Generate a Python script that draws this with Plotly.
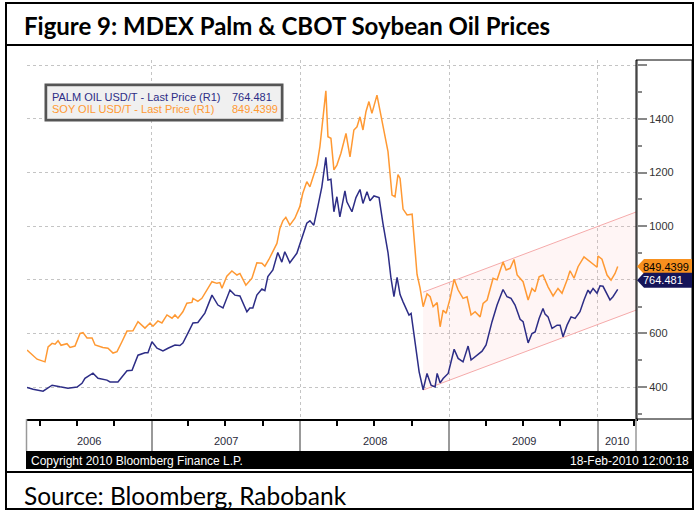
import pandas as pd
import plotly.graph_objects as go

# weekly-ish closes, time as decimal year
palm_t = [
    2006.161, 2006.202, 2006.269, 2006.330, 2006.383, 2006.437, 2006.498, 2006.531, 2006.551, 2006.605,
    2006.639, 2006.699, 2006.720, 2006.773, 2006.834, 2006.868, 2006.908, 2006.955, 2006.975, 2007.002,
    2007.036, 2007.076, 2007.110, 2007.157, 2007.190, 2007.210, 2007.244, 2007.278, 2007.311, 2007.358,
    2007.406, 2007.446, 2007.480, 2007.527, 2007.560, 2007.594, 2007.641, 2007.661, 2007.681, 2007.708,
    2007.742, 2007.762, 2007.782, 2007.816, 2007.849, 2007.876, 2007.896, 2007.930, 2007.977, 2008.011,
    2008.044, 2008.065, 2008.091, 2008.118, 2008.145, 2008.172, 2008.186, 2008.206, 2008.226, 2008.246,
    2008.266, 2008.300, 2008.313, 2008.347, 2008.374, 2008.401, 2008.421, 2008.448, 2008.468, 2008.495,
    2008.529, 2008.555, 2008.576, 2008.589, 2008.609, 2008.629, 2008.650, 2008.670, 2008.690, 2008.710,
    2008.730, 2008.744, 2008.764, 2008.784, 2008.798, 2008.825, 2008.851, 2008.878, 2008.905, 2008.919,
    2008.939, 2008.959, 2008.993, 2009.033, 2009.060, 2009.093, 2009.127, 2009.147, 2009.188, 2009.221,
    2009.248, 2009.288, 2009.322, 2009.362, 2009.389, 2009.416, 2009.443, 2009.477, 2009.497, 2009.531,
    2009.557, 2009.578, 2009.605, 2009.631, 2009.645, 2009.665, 2009.692, 2009.726, 2009.746, 2009.766,
    2009.793, 2009.820, 2009.847, 2009.880, 2009.907, 2009.934, 2009.948, 2009.968, 2009.995, 2010.015,
    2010.035, 2010.082, 2010.102, 2010.134,
]
palm_price = [
    399, 392, 385, 407, 401, 396, 400, 414, 433, 452,
    433, 426, 419, 419, 461, 463, 519, 528, 528, 569,
    545, 535, 545, 557, 555, 564, 601, 639, 641, 676,
    743, 706, 695, 762, 743, 740, 681, 695, 695, 743,
    766, 760, 812, 837, 902, 866, 905, 864, 899, 955,
    1011, 1020, 1004, 1073, 1147, 1257, 1172, 1175, 1054, 1110,
    1035, 1132, 1091, 1054, 1107, 1137, 1085, 1129, 1095, 1113,
    1107, 1011, 942, 902, 806, 737, 809, 745, 718, 690,
    669, 675, 590, 510, 457, 390, 451, 407, 401, 451,
    416, 432, 451, 541, 507, 494, 553, 501, 519, 534,
    557, 644, 706, 764, 737, 731, 706, 653, 644, 565,
    600, 606, 656, 693, 672, 662, 619, 631, 631, 588,
    631, 662, 656, 681, 725, 762, 750, 768, 750, 778,
    776, 725, 737, 764.481,
]

soy_t = [
    2006.161, 2006.182, 2006.229, 2006.282, 2006.303, 2006.330, 2006.350, 2006.370, 2006.390, 2006.430,
    2006.451, 2006.484, 2006.518, 2006.538, 2006.565, 2006.599, 2006.619, 2006.672, 2006.706, 2006.740,
    2006.767, 2006.800, 2006.834, 2006.874, 2006.908, 2006.955, 2006.989, 2007.009, 2007.042, 2007.069,
    2007.103, 2007.137, 2007.157, 2007.177, 2007.210, 2007.237, 2007.271, 2007.278, 2007.311, 2007.338,
    2007.372, 2007.406, 2007.439, 2007.459, 2007.473, 2007.506, 2007.540, 2007.574, 2007.594, 2007.634,
    2007.675, 2007.708, 2007.742, 2007.762, 2007.789, 2007.809, 2007.843, 2007.863, 2007.883, 2007.903,
    2007.930, 2007.964, 2007.997, 2008.017, 2008.044, 2008.065, 2008.085, 2008.112, 2008.132, 2008.152,
    2008.172, 2008.186, 2008.206, 2008.226, 2008.246, 2008.273, 2008.307, 2008.334, 2008.360, 2008.381,
    2008.401, 2008.421, 2008.441, 2008.461, 2008.481, 2008.515, 2008.535, 2008.555, 2008.589, 2008.616,
    2008.636, 2008.656, 2008.670, 2008.690, 2008.717, 2008.751, 2008.784, 2008.804, 2008.825, 2008.851,
    2008.872, 2008.892, 2008.919, 2008.939, 2008.959, 2008.979, 2009.006, 2009.033, 2009.060, 2009.093,
    2009.120, 2009.147, 2009.174, 2009.208, 2009.228, 2009.255, 2009.275, 2009.295, 2009.322, 2009.342,
    2009.362, 2009.383, 2009.410, 2009.436, 2009.457, 2009.497, 2009.531, 2009.557, 2009.578, 2009.605,
    2009.631, 2009.665, 2009.699, 2009.732, 2009.759, 2009.793, 2009.813, 2009.840, 2009.867, 2009.907,
    2009.948, 2009.995, 2010.001, 2010.028, 2010.062, 2010.089, 2010.116, 2010.134,
]
soy_price = [
    538, 527, 504, 494, 550, 563, 560, 573, 556, 562,
    548, 553, 600, 603, 583, 583, 557, 548, 545, 527,
    532, 569, 609, 610, 644, 620, 639, 627, 647, 639,
    669, 657, 669, 657, 681, 713, 716, 731, 720, 731,
    762, 793, 787, 790, 769, 814, 833, 818, 824, 780,
    806, 864, 862, 851, 876, 899, 936, 992, 1020, 1033,
    1004, 1030, 1073, 1123, 1166, 1147, 1185, 1228, 1297, 1396,
    1505, 1334, 1328, 1210, 1228, 1272, 1346, 1259, 1359, 1371,
    1408, 1359, 1427, 1465, 1421, 1489, 1434, 1371, 1278, 1116,
    1110, 1193, 1178, 1064, 1042, 1045, 820, 770, 700, 748,
    737, 700, 715, 625, 687, 675, 731, 802, 762, 731,
    737, 669, 681, 662, 712, 725, 768, 806, 800, 837,
    867, 837, 843, 876, 818, 793, 725, 768, 756, 811,
    818, 774, 740, 768, 750, 799, 834, 806, 849, 886,
    868, 847, 889, 877, 818, 799, 824, 849.4399,
]

# trend channel drawn on the Bloomberg chart
channel_t = [2008.825, 2010.257]
channel_upper = [754, 1053]
channel_lower = [389, 687]

x_start, x_end = 2006.161, 2010.257
y_tickvals = [400, 600, 800, 1000, 1200, 1400, 1600]
y_ticktext = ["400", "600", "800", "1000", "1200", "1400", ""]
years = [2006, 2007, 2008, 2009, 2010]
palm_last = "764.481"
soy_last = "849.4399"

PALM = "#2D2D86"
SOY = "#FF9933"
W, H = 695, 510


def to_date(t):
    y = int(t)
    start = pd.Timestamp(year=y, month=1, day=1)
    n = (pd.Timestamp(year=y + 1, month=1, day=1) - start).days
    return start + pd.Timedelta(days=(t - y) * n)


def dates(ts):
    return [to_date(t) for t in ts]


def px(x):
    return x / W


def py(y):
    return 1 - y / H


fig = go.Figure()

fig.add_trace(go.Scatter(
    x=dates(channel_t), y=channel_lower, mode="lines",
    line=dict(color="#F5AAAA", width=1), showlegend=False,
))
fig.add_trace(go.Scatter(
    x=dates(channel_t), y=channel_upper, mode="lines",
    line=dict(color="#F5AAAA", width=1), fill="tonexty",
    fillcolor="rgba(255,190,190,0.15)", showlegend=False,
))
fig.add_trace(go.Scatter(
    x=dates(soy_t), y=soy_price, mode="lines",
    line=dict(color=SOY, width=1.5), showlegend=False,
))
fig.add_trace(go.Scatter(
    x=dates(palm_t), y=palm_price, mode="lines",
    line=dict(color=PALM, width=1.5), showlegend=False,
))

shapes = [
    # outer frame + section rules
    dict(type="rect", xref="paper", yref="paper", x0=px(6), x1=px(693), y0=py(509), y1=py(3),
         line=dict(color="black", width=2)),
    dict(type="line", xref="paper", yref="paper", x0=px(6), x1=px(693), y0=py(45), y1=py(45),
         line=dict(color="black", width=2)),
    dict(type="line", xref="paper", yref="paper", x0=px(6), x1=px(693), y0=py(472), y1=py(472),
         line=dict(color="black", width=2)),
    # right label box
    dict(type="rect", xref="paper", yref="paper", x0=px(636), x1=px(692), y0=py(419), y1=py(60),
         line=dict(color="black", width=1)),
    # date band edges
    dict(type="line", xref="paper", yref="paper", x0=px(26.5), x1=px(26.5), y0=py(451), y1=py(419),
         line=dict(color="#999999", width=1.5)),
    dict(type="line", xref="paper", yref="paper", x0=px(636), x1=px(636), y0=py(451), y1=py(419),
         line=dict(color="#999999", width=1.5)),
    # copyright bar
    dict(type="rect", xref="paper", yref="paper", x0=px(26), x1=px(692), y0=py(469), y1=py(451),
         fillcolor="black", line=dict(width=0)),
    # legend box
    dict(type="rect", xref="paper", yref="paper", x0=px(46), x1=px(282), y0=py(120), y1=py(85),
         fillcolor="#F0F0F0", line=dict(color="#555555", width=3)),
    dict(type="rect", xref="paper", yref="paper", x0=px(47.5), x1=px(280.5), y0=py(118.5), y1=py(86.5),
         line=dict(color="#CCCCCC", width=1)),
]

# last price tags on the right axis
for val, col, shift in [(float(soy_last), "#F7901E", 0), (float(palm_last), "#141458", 9)]:
    shapes.append(dict(
        type="path", xref="paper", yref="y", xsizemode="pixel", ysizemode="pixel",
        xanchor=px(636), yanchor=val,
        path=f"M 1 {shift} L 8 {shift + 7.5} L 56 {shift + 7.5} L 56 {shift - 7.5} L 8 {shift - 7.5} Z",
        fillcolor=col, line=dict(width=0),
    ))

annotations = [
    dict(text="<b>Figure 9: MDEX Palm & CBOT Soybean Oil Prices</b>", x=px(22), y=py(25),
         xanchor="left", yanchor="middle", font=dict(family="Lato", size=24, color="black")),
    dict(text="Source: Bloomberg, Rabobank", x=px(22), y=py(495),
         xanchor="left", yanchor="middle", font=dict(family="Lato", size=24.5, color="black")),
    dict(text="Copyright 2010 Bloomberg Finance L.P.", x=px(29), y=py(460.5),
         xanchor="left", yanchor="middle", font=dict(family="Liberation Sans", size=12, color="white")),
    dict(text="18-Feb-2010 12:00:18", x=px(691), y=py(460.5),
         xanchor="right", yanchor="middle", font=dict(family="Liberation Sans", size=12, color="white")),
    dict(text="PALM OIL USD/T - Last Price (R1)", x=px(50), y=py(97),
         xanchor="left", yanchor="middle", font=dict(family="Liberation Sans", size=11, color=PALM)),
    dict(text=palm_last, x=px(230), y=py(97),
         xanchor="left", yanchor="middle", font=dict(family="Liberation Sans", size=11, color=PALM)),
    dict(text="SOY OIL USD/T - Last Price (R1)", x=px(50), y=py(108.5),
         xanchor="left", yanchor="middle", font=dict(family="Liberation Sans", size=11, color=SOY)),
    dict(text=soy_last, x=px(230), y=py(108.5),
         xanchor="left", yanchor="middle", font=dict(family="Liberation Sans", size=11, color=SOY)),
    dict(text=soy_last, x=px(641), y=float(soy_last), yref="y",
         xanchor="left", yanchor="middle", font=dict(family="Liberation Sans", size=11, color="black")),
    dict(text=palm_last, x=px(641), y=float(palm_last), yref="y", yshift=9,
         xanchor="left", yanchor="middle", font=dict(family="Liberation Sans", size=11, color="white")),
]

# year labels centred in the visible part of each year
for yr in years:
    lo = max(yr, x_start)
    hi = min(yr + 1, x_end)
    annotations.append(dict(
        text=str(yr), x=to_date((lo + hi) / 2), xref="x", y=py(441), yref="paper",
        xanchor="center", yanchor="middle",
        font=dict(family="Liberation Sans", size=11, color="#2A2A3A"),
    ))

for a in annotations:
    a.setdefault("xref", "paper")
    a.setdefault("yref", "paper")
    a.setdefault("showarrow", False)

fig.update_layout(
    width=W,
    height=H,
    autosize=False,
    margin=dict(l=0, r=0, t=0, b=0),
    plot_bgcolor="white",
    paper_bgcolor="white",
    showlegend=False,
    shapes=shapes,
    annotations=annotations,
    xaxis=dict(
        type="date",
        domain=[px(27), px(636)],
        range=[to_date(x_start), to_date(x_end)],
        tick0="2007-01-01",
        dtick="M12",
        ticks="outside",
        ticklen=32,
        tickwidth=1.5,
        tickcolor="#999999",
        showticklabels=False,
        showgrid=True,
        gridcolor="#C4C4C4",
        griddash="dot",
        gridwidth=1,
        showline=True,
        linecolor="black",
        linewidth=1.5,
        zeroline=False,
        minor=dict(dtick="M3", tick0="2006-01-01", ticks="outside", ticklen=5,
                   tickcolor="black", showgrid=False),
    ),
    yaxis=dict(
        domain=[py(419), py(60)],
        range=[281, 1620],
        side="right",
        tickvals=y_tickvals,
        ticktext=y_ticktext,
        ticks="outside",
        ticklen=9,
        tickwidth=1.5,
        tickcolor="#888888",
        tickfont=dict(family="Liberation Sans", size=11, color="#333333"),
        showgrid=True,
        gridcolor="#C4C4C4",
        griddash="dot",
        gridwidth=1,
        showline=True,
        linecolor="#888888",
        linewidth=2,
        zeroline=False,
        minor=dict(dtick=100, tick0=0, ticks="outside", ticklen=4, tickcolor="#888888",
                   showgrid=False),
    ),
)

# page body margin would shift the fixed-size figure
fig.write_html("out.html", config={"displayModeBar": False},
               post_script="document.body.style.margin='0';")
